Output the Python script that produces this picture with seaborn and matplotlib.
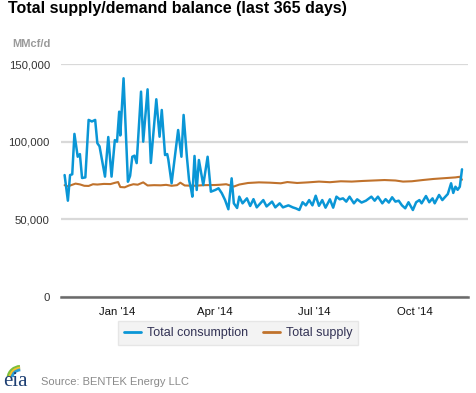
import matplotlib
matplotlib.use("Agg")
import matplotlib.pyplot as plt
from matplotlib.lines import Line2D
from matplotlib.patches import Arc
import numpy as np
import pandas as pd
import seaborn as sns

# ---------------- data ----------------
title = "Total supply/demand balance (last 365 days)"
unit_label = "MMcf/d"
source_text = "Source: BENTEK Energy LLC"
series_names = ["Total consumption", "Total supply"]
base_date = "2014-01-01"

# days relative to 2014-01-01
consumption_days = [-48, -45, -43, -41, -39, -36, -34, -32, -29, -26, -23, -20, -18, -16,
                    -11, -8, -5, -2, 0, 2, 3, 6, 10, 12, 14, 16, 18, 22, 24, 28, 31, 36,
                    39, 41, 44, 46, 47, 50, 56, 59, 61, 64, 66, 68, 69, 71, 73, 75, 79,
                    83, 86, 90, 93, 96, 99, 102, 105, 107, 110, 112, 115, 119, 122, 125,
                    128, 134, 137, 142, 145, 149, 152, 157, 161, 164, 167, 170, 173, 176,
                    179, 182, 185, 188, 191, 195, 198, 201, 204, 207, 210, 213, 217, 220,
                    224, 228, 233, 236, 239, 243, 246, 249, 252, 255, 258, 261, 264, 267,
                    271, 274, 277, 279, 283, 286, 289, 291, 295, 298, 300, 303, 306, 308,
                    310, 312, 314, 316]
consumption = [78500, 62000, 78500, 79000, 105000, 90300, 92000, 76600, 77000, 114000,
               113000, 114000, 99000, 97000, 77500, 103000, 77500, 101000, 100000, 119300,
               104000, 140800, 74200, 78000, 90300, 91000, 86200, 132200, 100000, 133700,
               86300, 127300, 103200, 120400, 91400, 92000, 88500, 73200, 107500, 90300,
               117200, 90300, 75300, 68900, 64600, 90800, 68900, 88200, 72100, 90300,
               67800, 68900, 70000, 66800, 62400, 56500, 76400, 60300, 57300, 64600,
               60300, 63500, 58600, 63000, 57700, 62400, 58300, 61400, 57700, 60300,
               57700, 59000, 57700, 57000, 56000, 61000, 59000, 62400, 59000, 65200,
               58700, 62400, 57500, 62900, 57500, 64600, 62900, 63500, 61400, 64600,
               60300, 62900, 60800, 62000, 64600, 62000, 64600, 60300, 63000, 60800,
               64200, 61400, 62000, 59000, 57100, 61000, 56000, 61000, 62400, 60300,
               65000, 61000, 63500, 60300, 65700, 62400, 64000, 66300, 73200, 67000,
               71000, 69000, 71000, 82200]

supply_days = [-48, -45, -42, -38, -34, -30, -26, -22, -18, -12, -6, -2, 1, 3, 7, 11, 15,
               19, 24, 28, 34, 40, 45, 50, 55, 58, 62, 70, 80, 90, 95, 100, 107, 112, 120,
               130, 140, 150, 156, 165, 175, 185, 195, 205, 215, 225, 235, 245, 255, 262,
               270, 280, 290, 300, 310, 314, 316]
supply = [72000, 71200, 72000, 73000, 72500, 71600, 71500, 72600, 72400, 72800, 72700,
          73500, 74000, 70800, 70600, 71800, 72600, 72300, 73800, 71800, 72000, 71900,
          72200, 71600, 72000, 73600, 71800, 71600, 72000, 72100, 72300, 72600, 71100,
          72400, 73400, 73800, 73600, 73200, 74000, 73400, 73800, 74300, 73900, 74500,
          74300, 74700, 75000, 75300, 75000, 74300, 74500, 75300, 76000, 76500, 77000,
          77400, 75500]

y_ticks = [0, 50000, 100000, 150000]
x_tick_dates = ["2014-01-01", "2014-04-01", "2014-07-01", "2014-10-01"]
x_tick_labels = ["Jan '14", "Apr '14", "Jul '14", "Oct '14"]

colors = {"Total consumption": "#0a96d6", "Total supply": "#c0722c"}

# ---------------- build frame ----------------
base = pd.Timestamp(base_date)
df = pd.concat([
    pd.DataFrame({"date": base + pd.to_timedelta(consumption_days, unit="D"),
                  "value": consumption, "series": series_names[0]}),
    pd.DataFrame({"date": base + pd.to_timedelta(supply_days, unit="D"),
                  "value": supply, "series": series_names[1]}),
], ignore_index=True)

# ---------------- plot ----------------
sns.set_style("white")
plt.rcParams["font.family"] = ["Liberation Sans", "DejaVu Sans"]

fig = plt.figure(figsize=(4.77, 3.93), dpi=100)
ax = fig.add_axes([61 / 477, 1 - 297 / 393, (468 - 61) / 477, (297 - 64) / 393])

sns.lineplot(data=df, x="date", y="value", hue="series", palette=colors,
             hue_order=[series_names[1], series_names[0]],
             size="series", sizes={series_names[0]: 1.8, series_names[1]: 1.5},
             ax=ax, legend=False)

ax.set_ylim(0, 150000)
ax.set_xlim(base + pd.Timedelta(days=-51.3), base + pd.Timedelta(days=321.5))
ax.set_yticks(y_ticks)
ax.set_yticklabels([f"{v:,}" for v in y_ticks], fontsize=8.2, color="#333333")
ax.set_xticks(pd.to_datetime(x_tick_dates))
ax.set_xticklabels(x_tick_labels, fontsize=8.2, color="#111111")
ax.set_xlabel("")
ax.set_ylabel("")

ax.grid(axis="y", color="#d9d9d9", linewidth=1.6)
ax.grid(axis="x", visible=False)
ax.set_axisbelow(True)
for s in ["top", "right", "left"]:
    ax.spines[s].set_visible(False)
ax.spines["bottom"].set_color("#6a6a6a")
ax.spines["bottom"].set_linewidth(1.8)
ax.spines["bottom"].set_zorder(5)
ax.tick_params(axis="y", length=0, pad=8)
ax.tick_params(axis="x", length=4, width=1, color="#333333", direction="out", pad=3)

# title & unit
fig.text(8 / 477, 1 - 9 / 393, title, fontsize=11.5, fontweight="bold",
         color="#000000", ha="left", va="center")
fig.text(12 / 477, 1 - 44 / 393, unit_label, fontsize=8, fontweight="bold",
         color="#9a9a9a", ha="left", va="center")

# legend
handles = [Line2D([0], [0], color=colors[n], lw=2) for n in series_names]
leg = fig.legend(handles, series_names, loc="center", bbox_to_anchor=(238 / 477, 1 - 333 / 393),
                 ncol=2, frameon=True, fontsize=9, handlelength=1.4, handletextpad=0.45,
                 columnspacing=1.2, borderpad=0.45, fancybox=False)
leg.get_frame().set_facecolor("#f0f0f0")
leg.get_frame().set_edgecolor("#e2e2e2")
for t in leg.get_texts():
    t.set_color("#333355")

# source + logo
fig.text(41 / 477, 1 - 382 / 393, source_text, fontsize=8, color="#8a8a8a",
         ha="left", va="center")
fig.text(3 / 477, 1 - 382 / 393, "eia", fontsize=15, color="#1d3f73",
         family=["Liberation Serif", "DejaVu Serif"], ha="left", va="center")
lax = fig.add_axes([2 / 477, 1 - 378 / 393, 32 / 477, 14 / 393])
lax.set_xlim(0, 32)
lax.set_ylim(0, 14)
lax.axis("off")
for r, c in [(13, "#7bbf3c"), (11, "#f2c12e"), (9, "#2a9bd6")]:
    lax.add_patch(Arc((19, 0), 2 * r, 2 * r * 0.9, theta1=95, theta2=175, color=c, lw=2))

fig.savefig("out.png", dpi=100)
